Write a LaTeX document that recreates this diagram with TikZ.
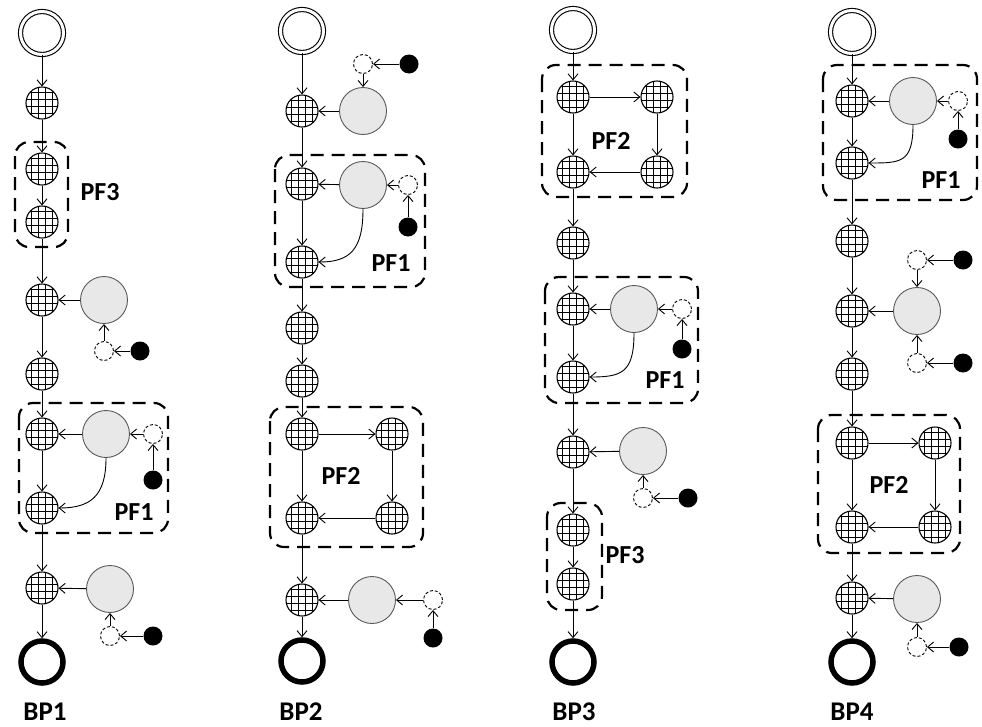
\documentclass[tikz,border=0pt]{standalone}
\usepackage{fontspec}
\setmainfont{Carlito}
\usetikzlibrary{arrows.meta}
\tikzset{
  hat/.style={circle, draw, fill=white, line width=1.1pt, minimum size=32pt, inner sep=0pt,
    path picture={
      \foreach \hh in {-10.5,-3.5,3.5,10.5}{
        \draw[line width=0.9pt] ([xshift=\hh pt]path picture bounding box.north) -- ([xshift=\hh pt]path picture bounding box.south);
        \draw[line width=0.9pt] ([yshift=\hh pt]path picture bounding box.west) -- ([yshift=\hh pt]path picture bounding box.east);
      }}},
  gryn/.style={circle, draw=black!65, fill=black!9, line width=0.9pt, minimum size=47pt, inner sep=0pt},
  dsh/.style={circle, draw, fill=white, line width=0.9pt, dash pattern=on 3pt off 2pt, minimum size=19pt, inner sep=0pt},
  blk/.style={circle, fill=black, minimum size=19pt, inner sep=0pt},
  startn/.style={circle, draw, double, double distance=3pt, line width=1.1pt, minimum size=43pt, inner sep=0pt},
  endn/.style={circle, draw, line width=5.5pt, minimum size=42pt, inner sep=0pt},
  conn/.style={draw, line width=0.9pt, -{Straight Barb[length=6pt,width=10pt,line width=0.9pt]}},
  pfbox/.style={draw, line width=2.2pt, dash pattern=on 13pt off 8pt, rounded corners=14pt},
  lbl/.style={font=\fontsize{26}{28}\selectfont\bfseries, inner sep=0pt},
  bplbl/.style={font=\fontsize{27}{29}\selectfont\bfseries, inner sep=0pt, anchor=base}
}
\begin{document}
\begin{tikzpicture}[x=1pt,y=-1pt]
\useasboundingbox (0,0) rectangle (982,726);

% ---------------- BP1 ----------------
\draw[pfbox] (15,142) rectangle (68,247);
\draw[pfbox] (19,403) rectangle (168,533);
\node[startn] (As) at (42,33) {};
\node[hat] (A1) at (42,103) {};
\node[hat] (A2) at (42,169) {};
\node[hat] (A3) at (42,222) {};
\node[hat] (A4) at (42,300) {};
\node[gryn] (A4g) at (104,300) {};
\node[dsh] (A4d) at (104,351) {};
\node[blk] (A4b) at (140,351) {};
\node[hat] (A5) at (42,374) {};
\node[hat] (A6) at (42,434) {};
\node[gryn] (A6g) at (106,434) {};
\node[dsh] (A6d) at (153,434) {};
\node[blk] (A6b) at (153,480) {};
\node[hat] (A7) at (42,508) {};
\node[hat] (A8) at (42,588) {};
\node[gryn] (A8g) at (110,589) {};
\node[dsh] (A8d) at (110,636) {};
\node[blk] (A8b) at (153,636) {};
\node[endn] (Ae) at (42,662) {};
\node[lbl] (Apf3) at (100,192) {PF3};
\node[lbl] (Apf1) at (134,512) {PF1};
\node[bplbl] (Abp) at (45,720) {BP1};
\draw[conn] (As) -- (A1);
\draw[conn] (A1) -- (A2);
\draw[conn] (A2) -- (A3);
\draw[conn] (A3) -- (A4);
\draw[conn] (A4) -- (A5);
\draw[conn] (A5) -- (A6);
\draw[conn] (A6) -- (A7);
\draw[conn] (A7) -- (A8);
\draw[conn] (A8) -- (Ae);
\draw[conn] (A4g) -- (A4);
\draw[conn] (A4d) -- (A4g);
\draw[conn] (A4b) -- (A4d);
\draw[conn] (A6g) -- (A6);
\draw[conn] (A6d) -- (A6g);
\draw[conn] (A6b) -- (A6d);
\draw[conn] (A6g.south) .. controls +(0,38) and +(32,0) .. (A7.east);
\draw[conn] (A8g) -- (A8);
\draw[conn] (A8d) -- (A8g);
\draw[conn] (A8b) -- (A8d);

% ---------------- BP2 ----------------
\draw[pfbox] (275,155) rectangle (425,287);
\draw[pfbox] (270,407) rectangle (423,547);
\node[startn] (Bs) at (302,31) {};
\node[hat] (B1) at (302,111) {};
\node[gryn] (B1g) at (363,111) {};
\node[dsh] (B1d) at (363,64) {};
\node[blk] (B1b) at (409,64) {};
\node[hat] (B2) at (302,184) {};
\node[gryn] (B2g) at (363,185) {};
\node[dsh] (B2d) at (408,185) {};
\node[blk] (B2b) at (408,227) {};
\node[hat] (B3) at (302,262) {};
\node[hat] (B4) at (302,328) {};
\node[hat] (B5) at (302,381) {};
\node[hat] (B6) at (302,434) {};
\node[hat] (B6r) at (392,434) {};
\node[hat] (B7) at (302,518) {};
\node[hat] (B7r) at (392,518) {};
\node[hat] (B8) at (302,600) {};
\node[gryn] (B8g) at (372,600) {};
\node[dsh] (B8d) at (433,600) {};
\node[blk] (B8b) at (433,638) {};
\node[endn] (Be) at (302,661) {};
\node[lbl] (Bpf1) at (391,263) {PF1};
\node[lbl] (Bpf2) at (341,476) {PF2};
\node[bplbl] (Bbp) at (301,720) {BP2};
\draw[conn] (Bs) -- (B1);
\draw[conn] (B1) -- (B2);
\draw[conn] (B2) -- (B3);
\draw[conn] (B3) -- (B4);
\draw[conn] (B4) -- (B5);
\draw[conn] (B5) -- (B6);
\draw[conn] (B6) -- (B7);
\draw[conn] (B7) -- (B8);
\draw[conn] (B8) -- (Be);
\draw[conn] (B1g) -- (B1);
\draw[conn] (B1d) -- (B1g);
\draw[conn] (B1b) -- (B1d);
\draw[conn] (B2g) -- (B2);
\draw[conn] (B2d) -- (B2g);
\draw[conn] (B2b) -- (B2d);
\draw[conn] (B2g.south) .. controls +(0,40) and +(32,0) .. (B3.east);
\draw[conn] (B6) -- (B6r);
\draw[conn] (B6r) -- (B7r);
\draw[conn] (B7r) -- (B7);
\draw[conn] (B8g) -- (B8);
\draw[conn] (B8d) -- (B8g);
\draw[conn] (B8b) -- (B8d);

% ---------------- BP3 ----------------
\draw[pfbox] (542,65) rectangle (687,197);
\draw[pfbox] (545,277) rectangle (698,403);
\draw[pfbox] (547,503) rectangle (602,610);
\node[startn] (Cs) at (573,30) {};
\node[hat] (C1) at (573,97) {};
\node[hat] (C1r) at (657,97) {};
\node[hat] (C2) at (573,172) {};
\node[hat] (C2r) at (657,172) {};
\node[hat] (C3) at (573,243) {};
\node[hat] (C4) at (573,309) {};
\node[gryn] (C4g) at (634,309) {};
\node[dsh] (C4d) at (682,309) {};
\node[blk] (C4b) at (682,349) {};
\node[hat] (C5) at (573,377) {};
\node[hat] (C6) at (573,452) {};
\node[gryn] (C6g) at (643,451) {};
\node[dsh] (C6d) at (643,498) {};
\node[blk] (C6b) at (688,498) {};
\node[hat] (C7) at (573,530) {};
\node[hat] (C8) at (573,584) {};
\node[endn] (Ce) at (573,662) {};
\node[lbl] (Cpf2) at (611,141) {PF2};
\node[lbl] (Cpf1) at (665,380) {PF1};
\node[lbl] (Cpf3) at (625,555) {PF3};
\node[bplbl] (Cbp) at (574,720) {BP3};
\draw[conn] (Cs) -- (C1);
\draw[conn] (C1) -- (C2);
\draw[conn] (C2) -- (C3);
\draw[conn] (C3) -- (C4);
\draw[conn] (C4) -- (C5);
\draw[conn] (C5) -- (C6);
\draw[conn] (C6) -- (C7);
\draw[conn] (C7) -- (C8);
\draw[conn] (C8) -- (Ce);
\draw[conn] (C1) -- (C1r);
\draw[conn] (C1r) -- (C2r);
\draw[conn] (C2r) -- (C2);
\draw[conn] (C4g) -- (C4);
\draw[conn] (C4d) -- (C4g);
\draw[conn] (C4b) -- (C4d);
\draw[conn] (C4g.south) .. controls +(0,40) and +(32,0) .. (C5.east);
\draw[conn] (C6g) -- (C6);
\draw[conn] (C6d) -- (C6g);
\draw[conn] (C6b) -- (C6d);

% ---------------- BP4 ----------------
\draw[pfbox] (823,65) rectangle (977,200);
\draw[pfbox] (818,415) rectangle (960,553);
\node[startn] (Ds) at (852,32) {};
\node[hat] (D1) at (852,101) {};
\node[gryn] (D1g) at (913,101) {};
\node[dsh] (D1d) at (958,101) {};
\node[blk] (D1b) at (958,139) {};
\node[hat] (D2) at (852,163) {};
\node[hat] (D3) at (852,241) {};
\node[dsh] (D4u) at (917,260) {};
\node[blk] (D4ub) at (963,260) {};
\node[hat] (D4) at (852,311) {};
\node[gryn] (D4g) at (917,311) {};
\node[dsh] (D4l) at (917,363) {};
\node[blk] (D4lb) at (963,363) {};
\node[hat] (D5) at (852,374) {};
\node[hat] (D6) at (852,443) {};
\node[hat] (D6r) at (935,443) {};
\node[hat] (D7) at (852,527) {};
\node[hat] (D7r) at (935,527) {};
\node[hat] (D8) at (852,598) {};
\node[gryn] (D8g) at (917,599) {};
\node[dsh] (D8d) at (917,647) {};
\node[blk] (D8b) at (959,647) {};
\node[endn] (De) at (852,662) {};
\node[lbl] (Dpf1) at (941,180) {PF1};
\node[lbl] (Dpf2) at (889,485) {PF2};
\node[bplbl] (Dbp) at (852,720) {BP4};
\draw[conn] (Ds) -- (D1);
\draw[conn] (D1) -- (D2);
\draw[conn] (D2) -- (D3);
\draw[conn] (D3) -- (D4);
\draw[conn] (D4) -- (D5);
\draw[conn] (D5) -- (D6);
\draw[conn] (D6) -- (D7);
\draw[conn] (D7) -- (D8);
\draw[conn] (D8) -- (De);
\draw[conn] (D1g) -- (D1);
\draw[conn] (D1d) -- (D1g);
\draw[conn] (D1b) -- (D1d);
\draw[conn] (D1g.south) .. controls +(0,38) and +(32,0) .. (D2.east);
\draw[conn] (D4g) -- (D4);
\draw[conn] (D4u) -- (D4g);
\draw[conn] (D4ub) -- (D4u);
\draw[conn] (D4l) -- (D4g);
\draw[conn] (D4lb) -- (D4l);
\draw[conn] (D6) -- (D6r);
\draw[conn] (D6r) -- (D7r);
\draw[conn] (D7r) -- (D7);
\draw[conn] (D8g) -- (D8);
\draw[conn] (D8d) -- (D8g);
\draw[conn] (D8b) -- (D8d);
\end{tikzpicture}
\end{document}
